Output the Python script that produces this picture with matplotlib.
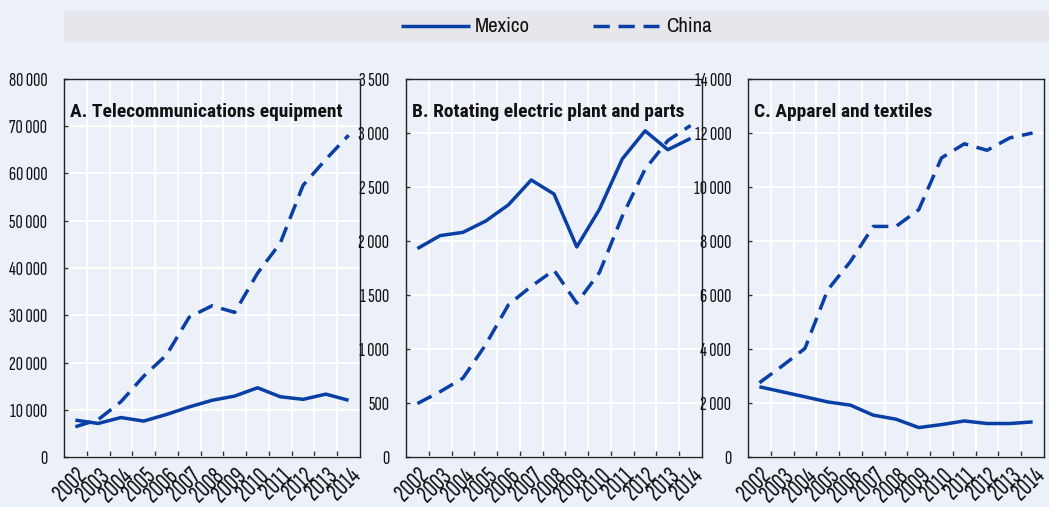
import numpy as np
import matplotlib.pyplot as plt
from matplotlib.patches import Rectangle
from matplotlib.lines import Line2D

years = ["2002", "2003", "2004", "2005", "2006", "2007", "2008",
         "2009", "2010", "2011", "2012", "2013", "2014"]

# A. Telecommunications equipment
telecom_mexico = [7800, 7100, 8350, 7600, 9000, 10600, 12000, 12900, 14650, 12750, 12200, 13300, 12000]
telecom_china = [6400, 7900, 11700, 17100, 21600, 29600, 32000, 30600, 38900, 45300, 57500, 63000, 68100]

# B. Rotating electric plant and parts
rotating_mexico = [1930, 2050, 2080, 2185, 2335, 2565, 2435, 1945, 2295, 2760, 3020, 2845, 2950]
rotating_china = [495, 605, 730, 1040, 1410, 1580, 1730, 1425, 1710, 2230, 2665, 2930, 3070]

# C. Apparel and textiles
apparel_mexico = [2600, 2415, 2230, 2040, 1920, 1550, 1400, 1090, 1200, 1335, 1240, 1240, 1300]
apparel_china = [2750, 3370, 4020, 6190, 7240, 8540, 8540, 9160, 11080, 11600, 11360, 11820, 12000]

panels = [
    ("A. Telecommunications equipment", telecom_mexico, telecom_china, 80000, 10000),
    ("B. Rotating electric plant and parts", rotating_mexico, rotating_china, 3500, 500),
    ("C. Apparel and textiles", apparel_mexico, apparel_china, 14000, 2000),
]

BG = "#ecf0f9"
LINE = "#0a3fa6"
TICK_FONT = ["Sofia Sans Extra Condensed", "Archivo Narrow", "DejaVu Sans"]
TEXT_FONT = ["Archivo Narrow", "DejaVu Sans"]
TITLE_FONT = ["Roboto Condensed", "DejaVu Sans"]
plt.rcParams["font.family"] = TEXT_FONT

W, H = 1049, 507
fig = plt.figure(figsize=(W / 100, H / 100), dpi=100, facecolor=BG)

# legend band, drawn by hand so the keys sit where the reference has them
fig.patches.append(Rectangle((64 / W, 1 - 42 / H), (W - 64) / W, 31 / H,
                             transform=fig.transFigure, facecolor="#e5e7eb",
                             edgecolor="none", zorder=0))
ly = 1 - 26 / H
fig.add_artist(Line2D([401 / W, 470 / W], [ly, ly], transform=fig.transFigure,
                      color=LINE, lw=2.5, solid_capstyle="butt"))
fig.add_artist(Line2D([593 / W, 659 / W], [ly, ly], transform=fig.transFigure,
                      color=LINE, lw=2.5, dashes=(4.7, 2.5)))
fig.text(475 / W, ly, "Mexico", fontsize=15, va="center", ha="left", color="#111111")
fig.text(666 / W, ly, "China", fontsize=15, va="center", ha="left", color="#111111")

lefts = [64, 406, 748]
x = np.arange(len(years))
for (title, mex, chn, ymax, step), left in zip(panels, lefts):
    ax = fig.add_axes([left / W, 50 / H, 296 / W, 378 / H])
    ax.set_facecolor(BG)
    ax.plot(x, mex, color=LINE, lw=2.5, solid_capstyle="butt", zorder=3)
    ax.plot(x, chn, color=LINE, lw=2.5, dashes=(4.6, 2.5), zorder=3)
    ax.set_xlim(-0.5, len(years) - 0.5)
    ax.set_ylim(0, ymax)

    yt = np.arange(0, ymax + 1, step)
    ax.set_yticks(yt)
    ax.set_yticklabels([f"{v:,.0f}".replace(",", " ") for v in yt], fontsize=14.5,
                       family=TICK_FONT, color="#111111")
    ax.tick_params(axis="y", direction="in", length=3, width=1, color="#333333", pad=12)

    ax.set_xticks(x)
    ax.set_xticklabels(years, rotation=45, ha="right", rotation_mode="anchor", fontsize=19,
                       family=TICK_FONT, color="#111111")
    ax.tick_params(axis="x", which="major", length=0, pad=5)
    ax.set_xticks(x[:-1] + 0.5, minor=True)
    ax.tick_params(axis="x", which="minor", direction="in", length=4, width=1, color="#333333")

    ax.grid(axis="y", which="major", color="white", lw=1.5)
    ax.grid(axis="x", which="minor", color="white", lw=1.5)
    ax.set_axisbelow(True)
    for s in ax.spines.values():
        s.set_color("#222222")
        s.set_linewidth(1.0)

    ax.text(0.02, 0.913, title, transform=ax.transAxes, fontsize=14, fontweight="bold",
            family=TITLE_FONT, ha="left", va="center", color="#111111")

fig.savefig("out.png", dpi=100, facecolor=BG)
